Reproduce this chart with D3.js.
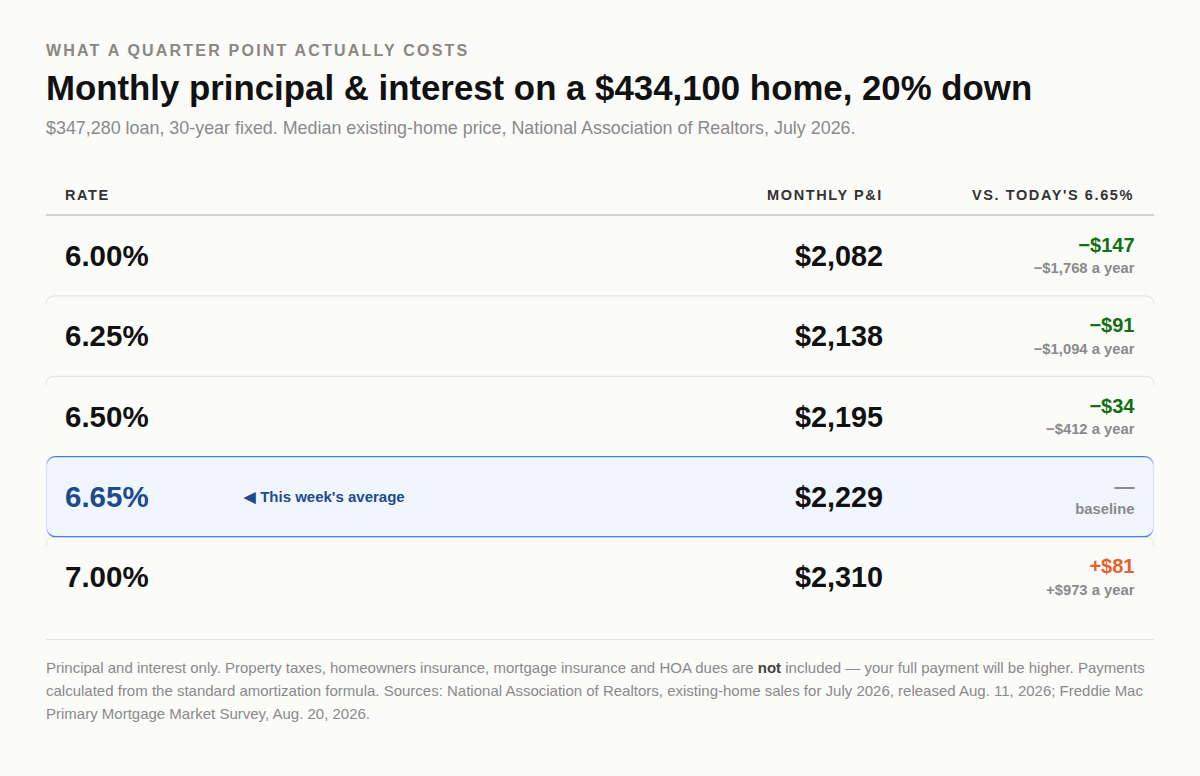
<html>
<head>
<meta charset="utf-8">
<script src="https://cdn.jsdelivr.net/npm/d3@7/dist/d3.min.js"></script>
<style>
body { margin: 0; background: #fbfbf9; }
text { font-family: "Liberation Sans", Arial, sans-serif; }
</style>
</head>
<body>
<svg id="chart" width="1200" height="776"></svg>
<script>
// table values
var rates = ["6.00%", "6.25%", "6.50%", "6.65%", "7.00%"];
var monthly = [2082, 2138, 2195, 2229, 2310];
var vsMonthly = [-147, -91, -34, 0, 81];
var vsYearly = [-1768, -1094, -412, 0, 973];
var columns = ["RATE", "MONTHLY P&I", "VS. TODAY'S 6.65%"];
var baselineRate = "6.65%";

var svg = d3.select("#chart");
var W = 1200, left = 46, right = 1154;

svg.append("rect").attr("width", W).attr("height", 776).attr("fill", "#fbfbf9");

// headline block
svg.append("text").attr("x", left).attr("y", 56)
  .style("font-size", "16px").style("font-weight", "bold").style("letter-spacing", "2.2px")
  .attr("fill", "#8a8680").text("WHAT A QUARTER POINT ACTUALLY COSTS");
svg.append("text").attr("x", left).attr("y", 99.5)
  .style("font-size", "34.8px").style("font-weight", "bold")
  .attr("fill", "#111").text("Monthly principal & interest on a $434,100 home, 20% down");
svg.append("text").attr("x", left).attr("y", 134)
  .style("font-size", "17.9px").attr("fill", "#8a8a8a")
  .text("$347,280 loan, 30-year fixed. Median existing-home price, National Association of Realtors, July 2026.");

// columns
var colX = d3.scaleOrdinal().domain(columns).range([65, 883, 1134]);
var colAnchor = d3.scaleOrdinal().domain(columns).range(["start", "end", "end"]);

svg.selectAll(".colhead").data(columns).enter().append("text")
  .attr("x", d => colX(d)).attr("y", 200)
  .attr("text-anchor", d => colAnchor(d))
  .style("font-size", "14.5px").style("font-weight", "bold").style("letter-spacing", "1.6px")
  .attr("fill", "#333").text(d => d);

svg.append("line").attr("x1", left).attr("x2", right).attr("y1", 215).attr("y2", 215)
  .attr("stroke", "#c9c7c0").attr("stroke-width", 1.3);

var y = d3.scaleBand().domain(rates).range([215, 617]);
var fmt = d3.format("$,");
var fmtSigned = d3.format("+$,");

var rows = rates.map(function(r, i) {
  return { rate: r, pay: monthly[i], dm: vsMonthly[i], dy: vsYearly[i], i: i };
});

// row separators (rounded top edges)
svg.selectAll(".sep").data(rows.filter(d => d.i > 0)).enter().append("path")
  .attr("d", function(d) {
    var t = y(d.rate) + 0.5, r = 9;
    return "M" + left + "," + (t + r) + " Q" + left + "," + t + " " + (left + r) + "," + t +
      " L" + (right - r) + "," + t + " Q" + right + "," + t + " " + right + "," + (t + r);
  })
  .attr("fill", "none").attr("stroke", "#e6e4de").attr("stroke-width", 1);

// highlighted baseline row
var grad = svg.append("defs").append("linearGradient").attr("id", "hlstroke")
  .attr("x1", 0).attr("x2", 0).attr("y1", 0).attr("y2", 1);
grad.append("stop").attr("offset", "0%").attr("stop-color", "#3d84dc");
grad.append("stop").attr("offset", "10%").attr("stop-color", "#dbe5f2");
grad.append("stop").attr("offset", "90%").attr("stop-color", "#dbe5f2");
grad.append("stop").attr("offset", "100%").attr("stop-color", "#3d84dc");

svg.append("rect")
  .attr("x", left + 0.5).attr("y", y(baselineRate) + 0.5)
  .attr("width", right - left - 1).attr("height", y.bandwidth() - 0.5)
  .attr("rx", 9).attr("fill", "#f1f6fe")
  .attr("stroke", "url(#hlstroke)").attr("stroke-width", 1.3);

var g = svg.selectAll(".row").data(rows).enter().append("g")
  .attr("transform", d => "translate(0," + (y(d.rate) + y.bandwidth() / 2) + ")");

g.append("text").attr("x", colX(columns[0])).attr("y", 10.5)
  .style("font-size", "29.5px").style("font-weight", "bold")
  .attr("fill", d => d.rate === baselineRate ? "#1c4b8e" : "#111")
  .text(d => d.rate);

g.filter(d => d.rate === baselineRate).append("text")
  .attr("x", 244).attr("y", 6)
  .style("font-size", "15px").style("font-weight", "bold").attr("fill", "#1c4b8e")
  .text("\u25C0 This week's average");

g.append("text").attr("x", colX(columns[1])).attr("y", 10.5).attr("text-anchor", "end")
  .style("font-size", "28.8px").style("font-weight", "bold").attr("fill", "#111")
  .text(d => fmt(d.pay));

g.append("text").attr("x", colX(columns[2]) + 0.5).attr("y", -3.5).attr("text-anchor", "end")
  .style("font-size", "20px").style("font-weight", "bold")
  .attr("fill", d => d.dm < 0 ? "#11700f" : d.dm > 0 ? "#e8602c" : "#8a8a8a")
  .text(d => d.dm === 0 ? "\u2014" : fmtSigned(d.dm).replace("-", "\u2212"));

g.append("text").attr("x", colX(columns[2]) + 0.5).attr("y", 18).attr("text-anchor", "end")
  .style("font-size", "14.8px").style("font-weight", "bold").attr("fill", "#8a8a8a")
  .text(d => d.dy === 0 ? "baseline" : fmtSigned(d.dy).replace("-", "\u2212") + " a year");

// footer
svg.append("line").attr("x1", left).attr("x2", right).attr("y1", 639.5).attr("y2", 639.5)
  .attr("stroke", "#e4e4e2").attr("stroke-width", 1.2);

var note = svg.append("text").attr("x", left).attr("y", 673)
  .style("font-size", "15px").attr("fill", "#8a8a8a");
var l1 = note.append("tspan").attr("x", left).attr("y", 673);
l1.append("tspan").text("Principal and interest only. Property taxes, homeowners insurance, mortgage insurance and HOA dues are ");
l1.append("tspan").style("font-weight", "bold").attr("fill", "#444").text("not");
l1.append("tspan").text(" included \u2014 your full payment will be higher. Payments");
note.append("tspan").attr("x", left).attr("y", 696)
  .text("calculated from the standard amortization formula. Sources: National Association of Realtors, existing-home sales for July 2026, released Aug. 11, 2026; Freddie Mac");
note.append("tspan").attr("x", left).attr("y", 718.5)
  .text("Primary Mortgage Market Survey, Aug. 20, 2026.");
</script>
</body>
</html>
